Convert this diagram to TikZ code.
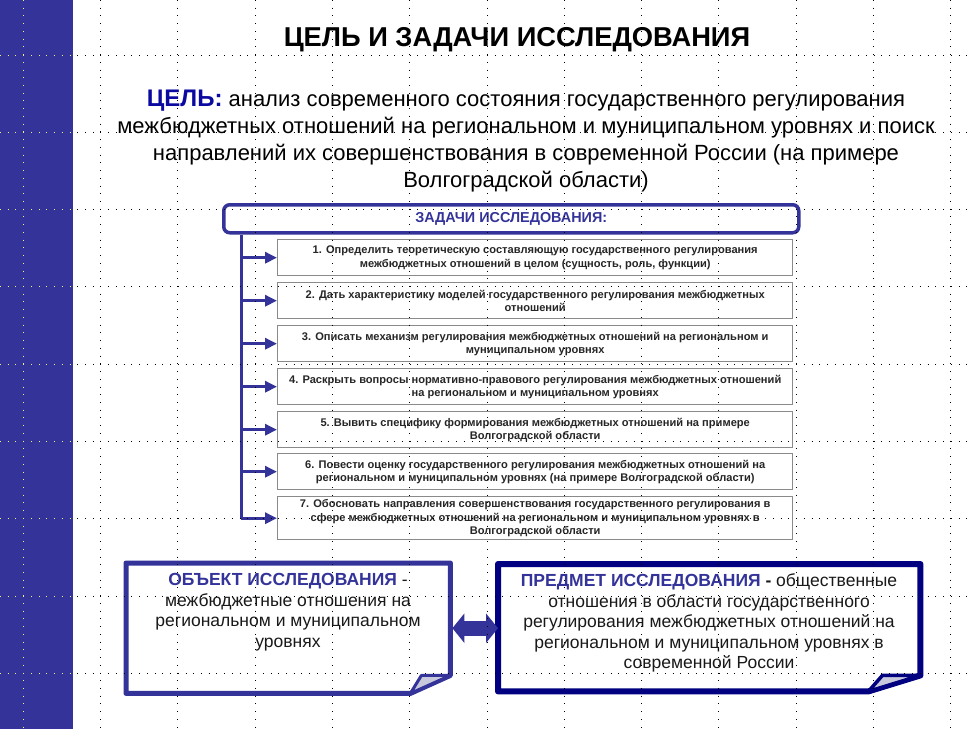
\documentclass[tikz,border=0pt]{standalone}
\usepackage{fontspec}
\setmainfont{Liberation Sans}
\usetikzlibrary{arrows.meta,calc}
\definecolor{side}{HTML}{333399}
\definecolor{navy}{HTML}{000080}
\definecolor{goalc}{HTML}{0A0AA0}
\definecolor{itemborder}{HTML}{8A8A8A}
\definecolor{foldc}{HTML}{C8C8DC}
\definecolor{gridyel}{HTML}{F0F070}
\begin{document}
\begin{tikzpicture}[x=1pt,y=-1pt,
  taskbox/.style={draw=itemborder, line width=1.4pt, fill=white, minimum width=515pt, minimum height=36pt,
    inner sep=0pt, align=center, anchor=north west, text=black!85,
    font=\fontsize{11.1}{13.2}\selectfont\bfseries},
  branch/.style={draw=side, line width=3pt, -{Triangle[length=12pt,width=11pt]}},
  griddot/.style={line width=0.85pt, dash pattern=on 0.85pt off 6.88pt},
  boxtext/.style={align=center, font=\fontsize{17.5}{20.5}\selectfont, text=black!90, inner sep=0pt}
]
\useasboundingbox (0,0) rectangle (974,729);
\fill[white] (0,0) rectangle (974,729);
\fill[side] (0,0) rectangle (73,729);

% title and goal
\node[font=\fontsize{27.3}{32}\selectfont\bfseries, inner sep=0pt] (title) at (517,40) {ЦЕЛЬ И ЗАДАЧИ ИССЛЕДОВАНИЯ};
\node[align=center, font=\fontsize{22}{26.7}\selectfont, inner sep=0pt] (goal) at (526,141)
 {{\color{goalc}\bfseries\fontsize{24}{26.7}\selectfont ЦЕЛЬ:} анализ современного состояния государственного регулирования\\
  межбюджетных отношений на региональном и муниципальном уровнях и поиск\\
  направлений их совершенствования в современной России (на примере\\
  Волгоградской области)};

% tasks header
\node[draw=side, line width=3.5pt, rounded corners=6pt, minimum width=575pt, minimum height=28pt,
  inner sep=0pt, anchor=north west, text=side, font=\fontsize{14.4}{17}\selectfont\bfseries]
  (zad) at (222,203) {ЗАДАЧИ ИССЛЕДОВАНИЯ:};

\node[taskbox] (t1) at (277,239) {1. Определить теоретическую составляющую государственного регулирования\\межбюджетных отношений в целом (сущность, роль, функции)};
\node[taskbox] (t2) at (277,282) {2. Дать характеристику моделей государственного регулирования межбюджетных\\отношений};
\node[taskbox] (t3) at (277,325) {3. Описать механизм регулирования межбюджетных отношений на региональном и\\муниципальном уровнях};
\node[taskbox] (t4) at (277,368) {4. Раскрыть вопросы нормативно-правового регулирования межбюджетных отношений\\на региональном и муниципальном уровнях};
\node[taskbox] (t5) at (277,411) {5. Вывить специфику формирования межбюджетных отношений на примере\\Волгоградской области};
\node[taskbox] (t6) at (277,453) {6. Повести оценку государственного регулирования межбюджетных отношений на\\региональном и муниципальном уровнях (на примере Волгоградской области)};
\node[taskbox, minimum height=43pt] (t7) at (277,496) {7. Обосновать направления совершенствования государственного регулирования в\\сфере межбюджетных отношений на региональном и муниципальном уровнях в\\Волгоградской области};

\coordinate (trunk) at ($(zad.south west)+(19,0)$);
\draw[side, line width=3pt] (trunk) -- (trunk |- t7.west);
\foreach \t in {t1,t2,t3,t4,t5,t6,t7}
  \draw[branch] (trunk |- \t.west) -- (\t.west);

% object box
\node[minimum width=324pt, minimum height=130pt, inner sep=0pt, anchor=north west] (obj) at (126,563) {};
\draw[side, line width=5pt, line join=round]
  (obj.north west) -- (obj.north east) -- ($(obj.south east)+(0,-18)$)
  -- ($(obj.south east)+(-40,0)$) -- (obj.south west) -- cycle;
\draw[side, line width=3pt, line join=round, fill=foldc]
  ($(obj.south east)+(-40,0)$) -- ($(obj.south east)+(-29,-18)$) -- ($(obj.south east)+(0,-18)$) -- cycle;
\node[boxtext] (objt) at (288,612)
 {{\bfseries\color{side}ОБЪЕКТ ИССЛЕДОВАНИЯ} -\\межбюджетные отношения на\\региональном и муниципальном\\уровнях};

% subject box
\node[minimum width=422pt, minimum height=127pt, inner sep=0pt, anchor=north west] (pred) at (498,564) {};
\draw[navy, line width=6pt, line join=round]
  (pred.north west) -- (pred.north east) -- ($(pred.south east)+(0,-16)$)
  -- ($(pred.south east)+(-52,0)$) -- (pred.south west) -- cycle;
\draw[navy, line width=3.5pt, line join=round, fill=foldc]
  ($(pred.south east)+(-52,0)$) -- ($(pred.south east)+(-38,-16)$) -- ($(pred.south east)+(0,-16)$) -- cycle;
\node[boxtext] (predt) at (709,623)
 {{\bfseries\color{side}ПРЕДМЕТ ИССЛЕДОВАНИЯ} {\bfseries -} общественные\\отношения в области государственного\\регулирования межбюджетных отношений на\\региональном и муниципальном уровнях в\\современной России};

% double arrow
\coordinate (objR) at ($(obj.east)+(2,0)$);
\draw[side, line width=15pt, {Triangle[length=12pt,width=29pt]}-{Triangle[length=12pt,width=29pt]}]
  (objR) -- (objR -| pred.west);

% grid overlay
\begin{scope}
  \clip (73,0) rectangle (974,729);
  \foreach \i in {0,...,12} \draw[griddot, black] ({23.2+77.3*\i},0) -- ({23.2+77.3*\i},729);
  \foreach \j in {0,...,8} \draw[griddot, black] (0,{55+77.3*\j}) -- (974,{55+77.3*\j});
\end{scope}
\begin{scope}
  \clip (0,0) rectangle (73,729);
  \foreach \i in {0} \draw[griddot, gridyel] ({23.2+77.3*\i},0) -- ({23.2+77.3*\i},729);
  \foreach \j in {0,...,8} \draw[griddot, gridyel] (0,{55+77.3*\j}) -- (974,{55+77.3*\j});
\end{scope}
\end{tikzpicture}
\end{document}
